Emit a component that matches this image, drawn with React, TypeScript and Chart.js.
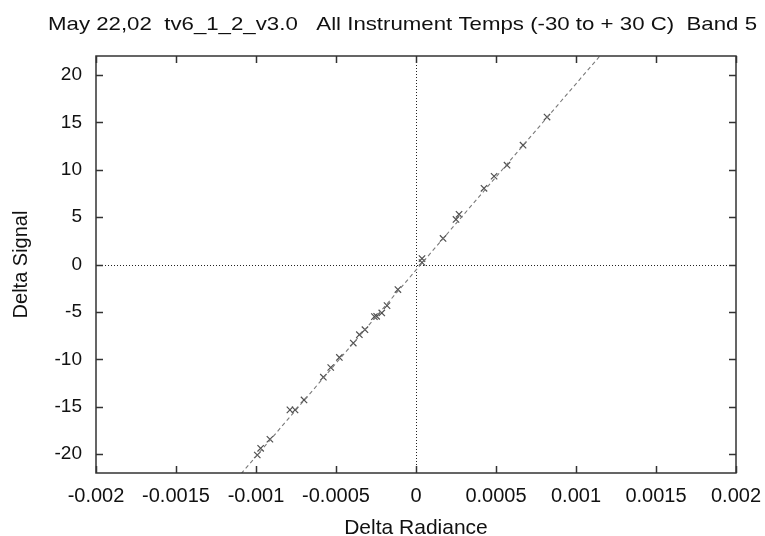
import React, { useEffect, useRef } from "react";
import { Chart, registerables } from "chart.js";

Chart.register(...registerables);

const TITLE = "May 22,02  tv6_1_2_v3.0   All Instrument Temps (-30 to + 30 C)  Band 5";
const X_LABEL = "Delta Radiance";
const Y_LABEL = "Delta Signal";

const X_TICKS = [-0.002, -0.0015, -0.001, -0.0005, 0, 0.0005, 0.001, 0.0015, 0.002];
const Y_TICKS = [-20, -15, -10, -5, 0, 5, 10, 15, 20];

const RADIANCE = [
  0.0000375, 0.0000375, 0.000169, 0.00025, 0.000269, 0.000425, 0.000488, 0.000569, 0.000669, 0.000819,
  -0.000113, -0.000181, -0.000214, -0.000246, -0.00026, -0.000319, -0.000354, -0.000392, -0.000479,
  -0.000533, -0.000579, -0.0007, -0.000756, -0.000788, -0.000913, -0.000971, -0.000992,
];
const SIGNAL = [
  0.63, 0.21, 2.75, 4.76, 5.29, 8.04, 9.31, 10.48, 12.59, 15.56,
  -2.65, -4.34, -5.11, -5.47, -5.5, -6.88, -7.41, -8.29, -9.81,
  -10.87, -11.89, -14.29, -15.34, -15.34, -18.44, -19.4, -20.1,
];

const FIT_X = [-0.00115, 0.0012];
const FIT_Y = [-23.2, 23.0];

const FONT = "'Liberation Sans', Arial, Helvetica, sans-serif";

const decorPlugin = {
  id: "decor",
  beforeDatasetsDraw(chart: any) {
    const { ctx, chartArea: a, scales } = chart;
    const x0 = scales.x.getPixelForValue(0);
    const y0 = scales.y.getPixelForValue(0);
    ctx.save();
    ctx.strokeStyle = "#222";
    ctx.lineWidth = 1;
    ctx.setLineDash([1, 2]);
    ctx.beginPath();
    ctx.moveTo(a.left, Math.round(y0) + 0.5);
    ctx.lineTo(a.right, Math.round(y0) + 0.5);
    ctx.moveTo(Math.round(x0) + 0.5, a.top);
    ctx.lineTo(Math.round(x0) + 0.5, a.bottom);
    ctx.stroke();
    ctx.restore();
  },
  afterDraw(chart: any) {
    const { ctx, chartArea: a, scales } = chart;
    ctx.save();
    ctx.strokeStyle = "#333";
    ctx.lineWidth = 1.5;
    ctx.setLineDash([]);
    ctx.strokeRect(a.left, a.top, a.right - a.left, a.bottom - a.top);
    const tl = 7;
    ctx.beginPath();
    for (const v of X_TICKS) {
      const px = Math.round(scales.x.getPixelForValue(v)) + 0.5;
      ctx.moveTo(px, a.bottom);
      ctx.lineTo(px, a.bottom - tl);
      ctx.moveTo(px, a.top);
      ctx.lineTo(px, a.top + tl);
    }
    for (const v of Y_TICKS) {
      const py = Math.round(scales.y.getPixelForValue(v)) + 0.5;
      ctx.moveTo(a.left, py);
      ctx.lineTo(a.left + tl, py);
      ctx.moveTo(a.right, py);
      ctx.lineTo(a.right - tl, py);
    }
    ctx.stroke();

    ctx.fillStyle = "#111";
    ctx.textBaseline = "alphabetic";

    // title, stretched horizontally like the reference
    ctx.save();
    ctx.font = `19px ${FONT}`;
    ctx.textAlign = "left";
    const w = ctx.measureText(TITLE).width;
    const target = 709;
    ctx.translate(48, 30);
    ctx.scale(target / w, 1);
    ctx.fillText(TITLE, 0, 0);
    ctx.restore();

    ctx.textAlign = "center";
    ctx.font = `21px ${FONT}`;
    ctx.fillText(X_LABEL, (a.left + a.right) / 2, 534);

    ctx.save();
    ctx.translate(27, (a.top + a.bottom) / 2);
    ctx.rotate(-Math.PI / 2);
    ctx.font = `20px ${FONT}`;
    ctx.fillText(Y_LABEL, 0, 0);
    ctx.restore();
    ctx.restore();
  },
};

export default function App() {
  const ref = useRef<HTMLCanvasElement>(null);
  useEffect(() => {
    if (!ref.current) return;
    const points = RADIANCE.map((x, i) => ({ x, y: SIGNAL[i] }));
    const fit = FIT_X.map((x, i) => ({ x, y: FIT_Y[i] }));
    const chart = new Chart(ref.current, {
      type: "scatter",
      data: {
        datasets: [
          {
            data: fit,
            showLine: true,
            borderColor: "#7a7a7a",
            borderWidth: 1.1,
            borderDash: [4, 3],
            pointRadius: 0,
            fill: false,
          } as any,
          {
            data: points,
            pointStyle: "crossRot",
            pointRadius: 4.5,
            pointBorderColor: "#505050",
            pointBorderWidth: 1.2,
            borderColor: "#505050",
            backgroundColor: "#505050",
          } as any,
        ],
      },
      options: {
        animation: false,
        responsive: false,
        layout: { padding: { top: 56, right: 29, left: 0, bottom: 0 } },
        plugins: { legend: { display: false }, tooltip: { enabled: false }, title: { display: false } },
        scales: {
          x: {
            type: "linear",
            min: -0.002,
            max: 0.002,
            grid: { display: false, drawTicks: false },
            border: { display: false },
            afterBuildTicks: (s: any) => {
              s.ticks = X_TICKS.map((v) => ({ value: v }));
            },
            afterFit: (s: any) => {
              s.height = 63;
              s.paddingLeft = 0;
              s.paddingRight = 0;
            },
            ticks: {
              padding: 11,
              color: "#111",
              font: { family: FONT, size: 20 },
              maxRotation: 0,
              autoSkip: false,
              callback: (v: any) => String(Number(Number(v).toFixed(4))),
            },
          },
          y: {
            type: "linear",
            min: -22,
            max: 22,
            grid: { display: false, drawTicks: false },
            border: { display: false },
            afterBuildTicks: (s: any) => {
              s.ticks = Y_TICKS.map((v) => ({ value: v }));
            },
            afterFit: (s: any) => {
              s.width = 96;
              s.paddingTop = 0;
              s.paddingBottom = 0;
            },
            ticks: {
              padding: 14,
              color: "#111",
              font: { family: FONT, size: 19 },
              autoSkip: false,
              callback: (v: any) => String(v),
            },
          },
        },
      },
      plugins: [decorPlugin],
    });
    return () => chart.destroy();
  }, []);
  return (
    <div style={{ position: "fixed", left: 0, top: 0, width: 765, height: 536, background: "#fff" }}>
      <canvas ref={ref} width={765} height={536} style={{ width: 765, height: 536 }} />
    </div>
  );
}
